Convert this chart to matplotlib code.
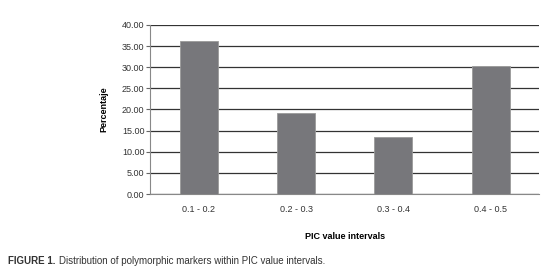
import matplotlib.pyplot as plt

plt.rcParams['font.family'] = ['Liberation Sans', 'DejaVu Sans']

categories = ['0.1 - 0.2', '0.2 - 0.3', '0.3 - 0.4', '0.4 - 0.5']
percent = [36.1, 19.2, 13.6, 30.4]
yticks = [0, 5, 10, 15, 20, 25, 30, 35, 40]

fig = plt.figure(figsize=(5.6, 2.8), dpi=100)
ax = fig.add_axes([0.268, 0.307, 0.695, 0.604])

ax.bar(range(len(categories)), percent, width=0.39, color='#77777b',
       edgecolor='#9a9a9a', linewidth=0.6, zorder=3)
ax.set_xlim(-0.5, len(categories) - 0.5)
ax.set_ylim(0, 40)
ax.set_yticks(yticks)
ax.set_yticklabels([f'{v:.2f}' for v in yticks])
ax.set_xticks(range(len(categories)))
ax.set_xticklabels(categories)
ax.yaxis.grid(True, color='#333333', linewidth=0.9, zorder=0)
ax.set_axisbelow(True)

for s in ['top', 'right']:
    ax.spines[s].set_visible(False)
ax.spines['left'].set_color('#888888')
ax.spines['bottom'].set_color('#888888')
ax.tick_params(axis='y', length=3, width=0.8, color='#666666', labelsize=6.5, pad=1, labelcolor='#333333')
ax.tick_params(axis='x', length=0, labelsize=6.5, pad=8, labelcolor='#333333')

ax.set_ylabel('Percentaje', fontsize=6.5, fontweight='bold', labelpad=10)
ax.set_xlabel('PIC value intervals', fontsize=6.5, fontweight='bold', labelpad=13)

t1 = fig.text(0.014, 0.057, 'FIGURE 1.', fontsize=7, fontweight='bold', color='#333333')
fig.canvas.draw()
bb = t1.get_window_extent().transformed(fig.transFigure.inverted())
fig.text(bb.x1 + 0.006, 0.057, 'Distribution of polymorphic markers within PIC value intervals.',
         fontsize=7, color='#333333')

fig.savefig('out.png', dpi=100)
